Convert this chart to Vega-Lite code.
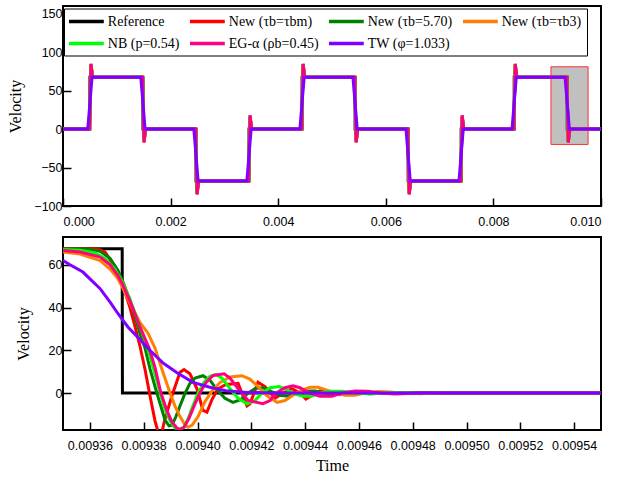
{
"$schema": "https://vega.github.io/schema/vega-lite/v6.json",
"padding": {"left": 6, "top": 5, "right": 17, "bottom": 5},
"config": {
  "view": {"stroke": "black", "strokeWidth": 2},
  "axis": {"domain": false, "grid": false, "ticks": true, "tickColor": "black", "tickWidth": 1.5, "tickSize": -8, "labelFont": "Liberation Sans", "labelFontSize": 12.5, "labelColor": "black", "titleFont": "Liberation Serif", "titleFontSize": 16, "titleFontWeight": "normal", "titleColor": "black", "titlePadding": 10},
  "axisX": {"labelPadding": 17},
  "axisY": {"labelPadding": 9},
  "concat": {"spacing": 7}
},
"datasets": {
"top": [
{"s":"s1","t":0,"v":0},{"s":"s1","t":0.0005,"v":0},{"s":"s1","t":0.000501,"v":67.5},{"s":"s1","t":0.001486,"v":67.5},{"s":"s1","t":0.001487,"v":0},{"s":"s1","t":0.002472,"v":0},{"s":"s1","t":0.002473,"v":-67.5},{"s":"s1","t":0.003457,"v":-67.5},{"s":"s1","t":0.003458,"v":0},{"s":"s1","t":0.004443,"v":0},{"s":"s1","t":0.004444,"v":67.5},{"s":"s1","t":0.005429,"v":67.5},{"s":"s1","t":0.00543,"v":0},{"s":"s1","t":0.006415,"v":0},{"s":"s1","t":0.006416,"v":-67.5},{"s":"s1","t":0.0074,"v":-67.5},{"s":"s1","t":0.007401,"v":0},{"s":"s1","t":0.008386,"v":0},{"s":"s1","t":0.008387,"v":67.5},{"s":"s1","t":0.009372,"v":67.5},{"s":"s1","t":0.009373,"v":0},{"s":"s1","t":0.01,"v":0},
{"s":"s2","t":0,"v":0},{"s":"s2","t":0.000492,"v":0},{"s":"s2","t":0.00052,"v":85},{"s":"s2","t":0.00055,"v":67.5},{"s":"s2","t":0.001478,"v":67.5},{"s":"s2","t":0.001506,"v":-17.5},{"s":"s2","t":0.001536,"v":0},{"s":"s2","t":0.002464,"v":0},{"s":"s2","t":0.002492,"v":-85},{"s":"s2","t":0.002522,"v":-67.5},{"s":"s2","t":0.003449,"v":-67.5},{"s":"s2","t":0.003477,"v":17.5},{"s":"s2","t":0.003507,"v":0},{"s":"s2","t":0.004435,"v":0},{"s":"s2","t":0.004463,"v":85},{"s":"s2","t":0.004493,"v":67.5},{"s":"s2","t":0.005421,"v":67.5},{"s":"s2","t":0.005449,"v":-17.5},{"s":"s2","t":0.005479,"v":0},{"s":"s2","t":0.006407,"v":0},{"s":"s2","t":0.006435,"v":-85},{"s":"s2","t":0.006465,"v":-67.5},{"s":"s2","t":0.007392,"v":-67.5},{"s":"s2","t":0.00742,"v":17.5},{"s":"s2","t":0.00745,"v":0},{"s":"s2","t":0.008378,"v":0},{"s":"s2","t":0.008406,"v":85},{"s":"s2","t":0.008436,"v":67.5},{"s":"s2","t":0.009364,"v":67.5},{"s":"s2","t":0.009392,"v":-17.5},{"s":"s2","t":0.009422,"v":0},{"s":"s2","t":0.01,"v":0},
{"s":"s3","t":0,"v":0},{"s":"s3","t":0.000492,"v":0},{"s":"s3","t":0.00052,"v":83},{"s":"s3","t":0.00055,"v":67.5},{"s":"s3","t":0.001478,"v":67.5},{"s":"s3","t":0.001506,"v":-15.5},{"s":"s3","t":0.001536,"v":0},{"s":"s3","t":0.002464,"v":0},{"s":"s3","t":0.002492,"v":-83},{"s":"s3","t":0.002522,"v":-67.5},{"s":"s3","t":0.003449,"v":-67.5},{"s":"s3","t":0.003477,"v":15.5},{"s":"s3","t":0.003507,"v":0},{"s":"s3","t":0.004435,"v":0},{"s":"s3","t":0.004463,"v":83},{"s":"s3","t":0.004493,"v":67.5},{"s":"s3","t":0.005421,"v":67.5},{"s":"s3","t":0.005449,"v":-15.5},{"s":"s3","t":0.005479,"v":0},{"s":"s3","t":0.006407,"v":0},{"s":"s3","t":0.006435,"v":-83},{"s":"s3","t":0.006465,"v":-67.5},{"s":"s3","t":0.007392,"v":-67.5},{"s":"s3","t":0.00742,"v":15.5},{"s":"s3","t":0.00745,"v":0},{"s":"s3","t":0.008378,"v":0},{"s":"s3","t":0.008406,"v":83},{"s":"s3","t":0.008436,"v":67.5},{"s":"s3","t":0.009364,"v":67.5},{"s":"s3","t":0.009392,"v":-15.5},{"s":"s3","t":0.009422,"v":0},{"s":"s3","t":0.01,"v":0},
{"s":"s4","t":0,"v":0},{"s":"s4","t":0.000492,"v":0},{"s":"s4","t":0.00052,"v":82},{"s":"s4","t":0.00055,"v":67.5},{"s":"s4","t":0.001478,"v":67.5},{"s":"s4","t":0.001506,"v":-14.5},{"s":"s4","t":0.001536,"v":0},{"s":"s4","t":0.002464,"v":0},{"s":"s4","t":0.002492,"v":-82},{"s":"s4","t":0.002522,"v":-67.5},{"s":"s4","t":0.003449,"v":-67.5},{"s":"s4","t":0.003477,"v":14.5},{"s":"s4","t":0.003507,"v":0},{"s":"s4","t":0.004435,"v":0},{"s":"s4","t":0.004463,"v":82},{"s":"s4","t":0.004493,"v":67.5},{"s":"s4","t":0.005421,"v":67.5},{"s":"s4","t":0.005449,"v":-14.5},{"s":"s4","t":0.005479,"v":0},{"s":"s4","t":0.006407,"v":0},{"s":"s4","t":0.006435,"v":-82},{"s":"s4","t":0.006465,"v":-67.5},{"s":"s4","t":0.007392,"v":-67.5},{"s":"s4","t":0.00742,"v":14.5},{"s":"s4","t":0.00745,"v":0},{"s":"s4","t":0.008378,"v":0},{"s":"s4","t":0.008406,"v":82},{"s":"s4","t":0.008436,"v":67.5},{"s":"s4","t":0.009364,"v":67.5},{"s":"s4","t":0.009392,"v":-14.5},{"s":"s4","t":0.009422,"v":0},{"s":"s4","t":0.01,"v":0},
{"s":"s5","t":0,"v":0},{"s":"s5","t":0.000492,"v":0},{"s":"s5","t":0.00052,"v":84},{"s":"s5","t":0.00055,"v":67.5},{"s":"s5","t":0.001478,"v":67.5},{"s":"s5","t":0.001506,"v":-16.5},{"s":"s5","t":0.001536,"v":0},{"s":"s5","t":0.002464,"v":0},{"s":"s5","t":0.002492,"v":-84},{"s":"s5","t":0.002522,"v":-67.5},{"s":"s5","t":0.003449,"v":-67.5},{"s":"s5","t":0.003477,"v":16.5},{"s":"s5","t":0.003507,"v":0},{"s":"s5","t":0.004435,"v":0},{"s":"s5","t":0.004463,"v":84},{"s":"s5","t":0.004493,"v":67.5},{"s":"s5","t":0.005421,"v":67.5},{"s":"s5","t":0.005449,"v":-16.5},{"s":"s5","t":0.005479,"v":0},{"s":"s5","t":0.006407,"v":0},{"s":"s5","t":0.006435,"v":-84},{"s":"s5","t":0.006465,"v":-67.5},{"s":"s5","t":0.007392,"v":-67.5},{"s":"s5","t":0.00742,"v":16.5},{"s":"s5","t":0.00745,"v":0},{"s":"s5","t":0.008378,"v":0},{"s":"s5","t":0.008406,"v":84},{"s":"s5","t":0.008436,"v":67.5},{"s":"s5","t":0.009364,"v":67.5},{"s":"s5","t":0.009392,"v":-16.5},{"s":"s5","t":0.009422,"v":0},{"s":"s5","t":0.01,"v":0},
{"s":"s6","t":0,"v":0},{"s":"s6","t":0.000492,"v":0},{"s":"s6","t":0.00052,"v":84.5},{"s":"s6","t":0.00055,"v":67.5},{"s":"s6","t":0.001478,"v":67.5},{"s":"s6","t":0.001506,"v":-17},{"s":"s6","t":0.001536,"v":0},{"s":"s6","t":0.002464,"v":0},{"s":"s6","t":0.002492,"v":-84.5},{"s":"s6","t":0.002522,"v":-67.5},{"s":"s6","t":0.003449,"v":-67.5},{"s":"s6","t":0.003477,"v":18},{"s":"s6","t":0.003507,"v":0},{"s":"s6","t":0.004435,"v":0},{"s":"s6","t":0.004463,"v":84.5},{"s":"s6","t":0.004493,"v":67.5},{"s":"s6","t":0.005421,"v":67.5},{"s":"s6","t":0.005449,"v":-17},{"s":"s6","t":0.005479,"v":0},{"s":"s6","t":0.006407,"v":0},{"s":"s6","t":0.006435,"v":-84.5},{"s":"s6","t":0.006465,"v":-67.5},{"s":"s6","t":0.007392,"v":-67.5},{"s":"s6","t":0.00742,"v":18},{"s":"s6","t":0.00745,"v":0},{"s":"s6","t":0.008378,"v":0},{"s":"s6","t":0.008406,"v":84.5},{"s":"s6","t":0.008436,"v":67.5},{"s":"s6","t":0.009364,"v":67.5},{"s":"s6","t":0.009392,"v":-17},{"s":"s6","t":0.009422,"v":0},{"s":"s6","t":0.01,"v":0},
{"s":"s7","t":0,"v":0},{"s":"s7","t":0.00046,"v":0},{"s":"s7","t":0.00054,"v":67.5},{"s":"s7","t":0.001446,"v":67.5},{"s":"s7","t":0.001526,"v":0},{"s":"s7","t":0.002432,"v":0},{"s":"s7","t":0.002512,"v":-67.5},{"s":"s7","t":0.003417,"v":-67.5},{"s":"s7","t":0.003497,"v":0},{"s":"s7","t":0.004403,"v":0},{"s":"s7","t":0.004483,"v":67.5},{"s":"s7","t":0.005389,"v":67.5},{"s":"s7","t":0.005469,"v":0},{"s":"s7","t":0.006375,"v":0},{"s":"s7","t":0.006455,"v":-67.5},{"s":"s7","t":0.00736,"v":-67.5},{"s":"s7","t":0.00744,"v":0},{"s":"s7","t":0.008346,"v":0},{"s":"s7","t":0.008426,"v":67.5},{"s":"s7","t":0.009332,"v":67.5},{"s":"s7","t":0.009412,"v":0},{"s":"s7","t":0.01,"v":0}
],
"bot": [
{"s":"s1","t":0.00935,"v":67.5},{"s":"s1","t":0.009372,"v":67.5},{"s":"s1","t":0.0093721,"v":0},{"s":"s1","t":0.00955,"v":0},
{"s":"s2","t":0.00935,"v":67.5},{"s":"s2","t":0.0093619,"v":67.5},{"s":"s2","t":0.0093638,"v":67},{"s":"s2","t":0.0093656,"v":66},{"s":"s2","t":0.0093675,"v":62.5},{"s":"s2","t":0.0093704,"v":56},{"s":"s2","t":0.0093723,"v":50},{"s":"s2","t":0.0093749,"v":40},{"s":"s2","t":0.0093768,"v":31},{"s":"s2","t":0.0093786,"v":22},{"s":"s2","t":0.0093805,"v":11},{"s":"s2","t":0.0093823,"v":-1},{"s":"s2","t":0.0093842,"v":-13},{"s":"s2","t":0.0093853,"v":-18},{"s":"s2","t":0.0093868,"v":-18},{"s":"s2","t":0.0093879,"v":-12.2},{"s":"s2","t":0.0093905,"v":-1.3},{"s":"s2","t":0.0093935,"v":9.7},{"s":"s2","t":0.009395,"v":11},{"s":"s2","t":0.0093972,"v":9},{"s":"s2","t":0.0093998,"v":2},{"s":"s2","t":0.009402,"v":-8},{"s":"s2","t":0.0094035,"v":-9},{"s":"s2","t":0.0094054,"v":-3},{"s":"s2","t":0.0094076,"v":2},{"s":"s2","t":0.0094106,"v":4},{"s":"s2","t":0.0094151,"v":4.5},{"s":"s2","t":0.0094184,"v":-6},{"s":"s2","t":0.0094195,"v":-5},{"s":"s2","t":0.0094225,"v":5},{"s":"s2","t":0.0094251,"v":3},{"s":"s2","t":0.0094288,"v":-2.5},{"s":"s2","t":0.0094318,"v":0},{"s":"s2","t":0.0094351,"v":2},{"s":"s2","t":0.0094381,"v":0},{"s":"s2","t":0.0094403,"v":-2.8},{"s":"s2","t":0.0094426,"v":-1},{"s":"s2","t":0.0094455,"v":1},{"s":"s2","t":0.0094493,"v":0.5},{"s":"s2","t":0.009453,"v":-0.8},{"s":"s2","t":0.0094585,"v":0.5},{"s":"s2","t":0.0094641,"v":-0.3},{"s":"s2","t":0.0094716,"v":0.2},{"s":"s2","t":0.0094827,"v":0},{"s":"s2","t":0.00955,"v":0},
{"s":"s3","t":0.00935,"v":67.5},{"s":"s3","t":0.00936,"v":67.3},{"s":"s3","t":0.0093638,"v":66.3},{"s":"s3","t":0.0093675,"v":63},{"s":"s3","t":0.0093704,"v":57.5},{"s":"s3","t":0.0093723,"v":52},{"s":"s3","t":0.0093749,"v":43},{"s":"s3","t":0.0093768,"v":35.5},{"s":"s3","t":0.0093786,"v":28},{"s":"s3","t":0.0093805,"v":21},{"s":"s3","t":0.0093823,"v":11.5},{"s":"s3","t":0.0093842,"v":3},{"s":"s3","t":0.0093849,"v":0},{"s":"s3","t":0.0093861,"v":-5},{"s":"s3","t":0.0093879,"v":-12.5},{"s":"s3","t":0.0093894,"v":-15.3},{"s":"s3","t":0.0093905,"v":-15},{"s":"s3","t":0.009392,"v":-11},{"s":"s3","t":0.0093935,"v":-6},{"s":"s3","t":0.0093954,"v":0},{"s":"s3","t":0.0093972,"v":4.5},{"s":"s3","t":0.0093991,"v":7},{"s":"s3","t":0.009402,"v":8.1},{"s":"s3","t":0.0094046,"v":6},{"s":"s3","t":0.0094076,"v":1},{"s":"s3","t":0.0094102,"v":-2.5},{"s":"s3","t":0.0094132,"v":-4.4},{"s":"s3","t":0.0094162,"v":-3},{"s":"s3","t":0.0094188,"v":0},{"s":"s3","t":0.0094217,"v":2.2},{"s":"s3","t":0.0094243,"v":2.5},{"s":"s3","t":0.009427,"v":1},{"s":"s3","t":0.0094299,"v":-1},{"s":"s3","t":0.0094336,"v":-1.5},{"s":"s3","t":0.009437,"v":0},{"s":"s3","t":0.00944,"v":1},{"s":"s3","t":0.0094437,"v":1},{"s":"s3","t":0.0094474,"v":0},{"s":"s3","t":0.0094511,"v":-0.6},{"s":"s3","t":0.0094567,"v":-0.3},{"s":"s3","t":0.0094623,"v":0.3},{"s":"s3","t":0.0094678,"v":0.2},{"s":"s3","t":0.0094753,"v":0},{"s":"s3","t":0.00955,"v":0},
{"s":"s4","t":0.00935,"v":66},{"s":"s4","t":0.0093563,"v":65},{"s":"s4","t":0.0093638,"v":62},{"s":"s4","t":0.0093675,"v":58},{"s":"s4","t":0.0093704,"v":53.5},{"s":"s4","t":0.0093723,"v":49},{"s":"s4","t":0.0093749,"v":42},{"s":"s4","t":0.0093786,"v":33},{"s":"s4","t":0.0093816,"v":28},{"s":"s4","t":0.0093842,"v":21},{"s":"s4","t":0.0093868,"v":11},{"s":"s4","t":0.0093898,"v":0},{"s":"s4","t":0.0093916,"v":-6},{"s":"s4","t":0.0093935,"v":-11},{"s":"s4","t":0.0093954,"v":-15},{"s":"s4","t":0.0093965,"v":-16},{"s":"s4","t":0.009398,"v":-15},{"s":"s4","t":0.0094002,"v":-11},{"s":"s4","t":0.0094028,"v":-4},{"s":"s4","t":0.0094054,"v":1},{"s":"s4","t":0.0094084,"v":5},{"s":"s4","t":0.0094121,"v":7.5},{"s":"s4","t":0.0094165,"v":8.1},{"s":"s4","t":0.0094195,"v":6.5},{"s":"s4","t":0.0094225,"v":3},{"s":"s4","t":0.0094255,"v":-1},{"s":"s4","t":0.0094296,"v":-4.4},{"s":"s4","t":0.0094325,"v":-3.5},{"s":"s4","t":0.0094355,"v":-1},{"s":"s4","t":0.0094381,"v":1},{"s":"s4","t":0.0094418,"v":2.7},{"s":"s4","t":0.0094448,"v":2.7},{"s":"s4","t":0.0094478,"v":1.5},{"s":"s4","t":0.0094511,"v":0},{"s":"s4","t":0.0094548,"v":-1},{"s":"s4","t":0.0094585,"v":-1},{"s":"s4","t":0.0094623,"v":0},{"s":"s4","t":0.0094671,"v":0.7},{"s":"s4","t":0.0094716,"v":0.5},{"s":"s4","t":0.0094753,"v":0},{"s":"s4","t":0.0094827,"v":-0.3},{"s":"s4","t":0.0094902,"v":0},{"s":"s4","t":0.00955,"v":0},
{"s":"s5","t":0.00935,"v":67.2},{"s":"s5","t":0.0093563,"v":66.8},{"s":"s5","t":0.0093619,"v":65.5},{"s":"s5","t":0.0093656,"v":63},{"s":"s5","t":0.0093693,"v":58},{"s":"s5","t":0.0093723,"v":51.5},{"s":"s5","t":0.0093749,"v":44},{"s":"s5","t":0.0093786,"v":31},{"s":"s5","t":0.0093812,"v":22},{"s":"s5","t":0.0093835,"v":12},{"s":"s5","t":0.0093861,"v":0},{"s":"s5","t":0.0093879,"v":-7.5},{"s":"s5","t":0.0093898,"v":-13},{"s":"s5","t":0.0093916,"v":-16.3},{"s":"s5","t":0.0093935,"v":-17},{"s":"s5","t":0.009395,"v":-16},{"s":"s5","t":0.0093965,"v":-12},{"s":"s5","t":0.0093983,"v":-6},{"s":"s5","t":0.0094002,"v":0},{"s":"s5","t":0.0094024,"v":5},{"s":"s5","t":0.0094046,"v":7.8},{"s":"s5","t":0.0094069,"v":8.6},{"s":"s5","t":0.0094091,"v":7},{"s":"s5","t":0.0094121,"v":2},{"s":"s5","t":0.0094151,"v":-2.5},{"s":"s5","t":0.0094184,"v":-5},{"s":"s5","t":0.0094214,"v":-3.5},{"s":"s5","t":0.009424,"v":0},{"s":"s5","t":0.009427,"v":2.5},{"s":"s5","t":0.0094303,"v":3},{"s":"s5","t":0.0094333,"v":1.5},{"s":"s5","t":0.0094362,"v":-0.5},{"s":"s5","t":0.0094392,"v":-1.5},{"s":"s5","t":0.0094422,"v":-1.5},{"s":"s5","t":0.0094455,"v":0},{"s":"s5","t":0.0094493,"v":0.8},{"s":"s5","t":0.0094541,"v":0.8},{"s":"s5","t":0.0094585,"v":0},{"s":"s5","t":0.0094641,"v":-0.4},{"s":"s5","t":0.0094697,"v":0},{"s":"s5","t":0.0094753,"v":0.2},{"s":"s5","t":0.0094827,"v":0},{"s":"s5","t":0.00955,"v":0},
{"s":"s6","t":0.00935,"v":66.7},{"s":"s6","t":0.0093563,"v":66},{"s":"s6","t":0.0093638,"v":63.6},{"s":"s6","t":0.0093675,"v":60},{"s":"s6","t":0.0093704,"v":55},{"s":"s6","t":0.0093723,"v":50.5},{"s":"s6","t":0.0093749,"v":43},{"s":"s6","t":0.0093786,"v":31},{"s":"s6","t":0.009382,"v":21},{"s":"s6","t":0.0093842,"v":12},{"s":"s6","t":0.0093864,"v":0},{"s":"s6","t":0.0093887,"v":-8.5},{"s":"s6","t":0.0093905,"v":-13.5},{"s":"s6","t":0.0093924,"v":-16.5},{"s":"s6","t":0.0093935,"v":-17},{"s":"s6","t":0.009395,"v":-16},{"s":"s6","t":0.0093968,"v":-12},{"s":"s6","t":0.0093991,"v":-5},{"s":"s6","t":0.0094009,"v":0},{"s":"s6","t":0.0094032,"v":5},{"s":"s6","t":0.0094058,"v":8.2},{"s":"s6","t":0.0094099,"v":9},{"s":"s6","t":0.0094121,"v":7},{"s":"s6","t":0.0094151,"v":2},{"s":"s6","t":0.0094188,"v":-3.5},{"s":"s6","t":0.0094243,"v":-5},{"s":"s6","t":0.009427,"v":-3.5},{"s":"s6","t":0.0094292,"v":0},{"s":"s6","t":0.0094325,"v":2.5},{"s":"s6","t":0.0094355,"v":3.4},{"s":"s6","t":0.0094381,"v":2.5},{"s":"s6","t":0.0094418,"v":0},{"s":"s6","t":0.0094455,"v":-1.5},{"s":"s6","t":0.00945,"v":-1.5},{"s":"s6","t":0.0094537,"v":0},{"s":"s6","t":0.0094585,"v":1},{"s":"s6","t":0.0094634,"v":0.8},{"s":"s6","t":0.0094678,"v":0},{"s":"s6","t":0.0094734,"v":-0.4},{"s":"s6","t":0.0094827,"v":0},{"s":"s6","t":0.00955,"v":0},
{"s":"s7","t":0.00935,"v":62},{"s":"s7","t":0.0093526,"v":60},{"s":"s7","t":0.0093574,"v":56.6},{"s":"s7","t":0.0093638,"v":48.8},{"s":"s7","t":0.0093675,"v":42.5},{"s":"s7","t":0.0093701,"v":37.8},{"s":"s7","t":0.0093723,"v":34},{"s":"s7","t":0.0093742,"v":30.8},{"s":"s7","t":0.0093775,"v":26.5},{"s":"s7","t":0.0093823,"v":20},{"s":"s7","t":0.0093872,"v":14},{"s":"s7","t":0.0093924,"v":9.5},{"s":"s7","t":0.0093983,"v":5},{"s":"s7","t":0.0094046,"v":2.7},{"s":"s7","t":0.0094106,"v":1.1},{"s":"s7","t":0.0094184,"v":0.3},{"s":"s7","t":0.0094288,"v":0.05},{"s":"s7","t":0.00955,"v":0}
]
},
"vconcat": [
{
  "width": 538, "height": 200,
  "layer": [
    {
      "data": {"values": [{"t0": 0.00907, "t1": 0.00976, "v0": -20, "v1": 81}]},
      "mark": {"type": "rect", "fill": "#c0c0c0", "stroke": "#ff3030", "strokeWidth": 1},
      "encoding": {
        "x": {"field": "t0", "type": "quantitative", "scale": {"domain": [0, 0.01], "nice": false, "zero": false}, "axis": {"values": [0, 0.002, 0.004, 0.006, 0.008, 0.01], "format": ".3f", "title": null}},
        "x2": {"field": "t1"},
        "y": {"field": "v0", "type": "quantitative", "scale": {"domain": [-100, 160], "nice": false}, "axis": {"values": [-100, -50, 0, 50, 100, 150], "title": "Velocity"}},
        "y2": {"field": "v1"}
      }
    },
    {
      "data": {"name": "top"},
      "mark": {"type": "line", "strokeWidth": 3, "clip": true},
      "encoding": {
        "x": {"field": "t", "type": "quantitative", "scale": {"domain": [0, 0.01], "nice": false, "zero": false}, "axis": {"values": [0, 0.002, 0.004, 0.006, 0.008, 0.01], "format": ".3f", "title": null}},
        "y": {"field": "v", "type": "quantitative", "scale": {"domain": [-100, 160], "nice": false}, "axis": {"values": [-100, -50, 0, 50, 100, 150], "title": "Velocity"}},
        "color": {
          "field": "s", "type": "nominal",
          "scale": {"domain": ["s1","s2","s3","s4","s5","s6","s7"], "range": ["#000000","#ff0000","#008000","#ff8000","#00ff00","#ff0080","#8000ff"]},
          "legend": {
            "orient": "none", "legendX": 1, "legendY": 2.5, "columns": 4, "direction": "horizontal", "title": null,
            "symbolType": "M-2.9,0H2.9", "symbolSize": 144, "symbolStrokeWidth": 3.5, "symbolOffset": 9.4,
            "labelFont": "Liberation Serif", "labelFontSize": 14, "labelColor": "black", "labelOffset": 13.4,
            "columnPadding": 3, "rowPadding": 7, "padding": 5, "gridAlign": "each",
            "strokeColor": "black", "fillColor": "white",
            "labelExpr": "{'s1':'Reference','s2':'New (τb=τbm)','s3':'New (τb=5.70)','s4':'New (τb=τb3)','s5':'NB (p=0.54)','s6':'EG-α (ρb=0.45)','s7':'TW (φ=1.033)'}[datum.label]"
          }
        }
      }
    }
  ]
},
{
  "width": 538, "height": 193,
  "data": {"name": "bot"},
  "mark": {"type": "line", "strokeWidth": 3, "clip": true},
  "encoding": {
    "x": {"field": "t", "type": "quantitative", "scale": {"domain": [0.00935, 0.00955], "nice": false, "zero": false}, "axis": {"values": [0.00936, 0.00938, 0.0094, 0.00942, 0.00944, 0.00946, 0.00948, 0.0095, 0.00952, 0.00954], "format": ".5f", "title": "Time", "titlePadding": 6}},
    "y": {"field": "v", "type": "quantitative", "scale": {"domain": [-17.3, 73], "nice": false, "zero": false}, "axis": {"values": [0, 20, 40, 60], "title": "Velocity", "titlePadding": 17}},
    "color": {
      "field": "s", "type": "nominal",
      "scale": {"domain": ["s1","s2","s3","s4","s5","s6","s7"], "range": ["#000000","#ff0000","#008000","#ff8000","#00ff00","#ff0080","#8000ff"]},
      "legend": null
    }
  }
}
],
"resolve": {"scale": {"color": "independent"}, "legend": {"color": "independent"}}
}
